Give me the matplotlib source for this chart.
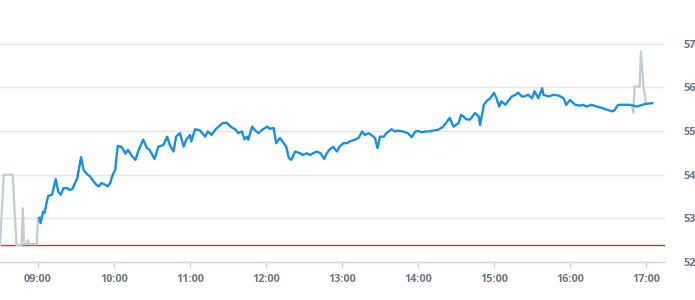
import numpy as np
import pandas as pd
import matplotlib
matplotlib.use("Agg")
import matplotlib.pyplot as plt
import matplotlib.dates as mdates

# 主线（交易时段）
blue_time = ["09:01", "09:02", "09:04", "09:05", "09:07", "09:08", "09:11", "09:12", "09:14", "09:16",
             "09:18", "09:20", "09:23", "09:25", "09:27", "09:31", "09:34", "09:36", "09:38", "09:41",
             "09:44", "09:46", "09:48", "09:50", "09:53", "09:55", "09:57", "09:59", "10:01", "10:02",
             "10:03", "10:05", "10:06", "10:09", "10:11", "10:14", "10:17", "10:19", "10:23", "10:26",
             "10:28", "10:32", "10:35", "10:39", "10:42", "10:44", "10:47", "10:49", "10:52", "10:55",
             "10:57", "11:00", "11:01", "11:04", "11:08", "11:12", "11:14", "11:17", "11:20", "11:24",
             "11:26", "11:29", "11:32", "11:36", "11:38", "11:41", "11:43", "11:45", "11:46", "11:49",
             "11:51", "11:54", "11:57", "12:01", "12:03", "12:06", "12:08", "12:11", "12:14", "12:16",
             "12:18", "12:20", "12:23", "12:27", "12:29", "12:32", "12:35", "12:37", "12:40", "12:43",
             "12:46", "12:48", "12:50", "12:53", "12:56", "12:58", "13:01", "13:04", "13:06", "13:10",
             "13:13", "13:16", "13:18", "13:21", "13:23", "13:26", "13:28", "13:30", "13:33", "13:35",
             "13:39", "13:42", "13:44", "13:48", "13:52", "13:55", "13:58", "14:00", "14:03", "14:06",
             "14:09", "14:12", "14:16", "14:20", "14:23", "14:25", "14:28", "14:32", "14:34", "14:36",
             "14:38", "14:41", "14:45", "14:48", "14:49", "14:52", "14:54", "14:57", "15:00", "15:02",
             "15:04", "15:06", "15:09", "15:11", "15:14", "15:17", "15:19", "15:22", "15:24", "15:27",
             "15:30", "15:32", "15:35", "15:38", "15:39", "15:43", "15:47", "15:51", "15:55", "15:57",
             "16:00", "16:04", "16:08", "16:10", "16:13", "16:17", "16:21", "16:25", "16:29", "16:33",
             "16:35", "16:38", "16:42", "16:46", "16:47", "16:53", "16:57", "17:00", "17:05"]
blue_value = [53.01, 52.89, 53.15, 53.12, 53.38, 53.51, 53.54, 53.65, 53.90, 53.61,
              53.54, 53.69, 53.69, 53.65, 53.67, 53.92, 54.40, 54.11, 54.03, 53.96,
              53.84, 53.77, 53.73, 53.81, 53.77, 53.73, 53.81, 54.00, 54.11, 54.42,
              54.66, 54.64, 54.64, 54.48, 54.57, 54.43, 54.34, 54.53, 54.80, 54.61,
              54.57, 54.36, 54.64, 54.68, 54.87, 54.68, 54.53, 54.87, 54.95, 54.64,
              54.80, 54.91, 54.76, 55.04, 55.01, 54.87, 54.99, 54.91, 55.03, 55.14,
              55.18, 55.19, 55.10, 55.03, 54.95, 54.99, 54.81, 54.87, 54.80, 55.10,
              55.03, 54.95, 55.03, 55.10, 55.05, 55.07, 54.72, 54.84, 54.72, 54.64,
              54.38, 54.34, 54.53, 54.49, 54.45, 54.49, 54.45, 54.49, 54.53, 54.49,
              54.36, 54.49, 54.57, 54.64, 54.53, 54.64, 54.72, 54.72, 54.76, 54.80,
              54.84, 54.99, 54.91, 54.95, 54.91, 54.84, 54.61, 54.87, 54.87, 54.95,
              55.04, 54.99, 55.01, 54.99, 54.95, 54.86, 54.99, 55.00, 54.97, 54.99,
              54.99, 55.01, 55.03, 55.10, 55.22, 55.30, 55.10, 55.18, 55.37, 55.33,
              55.27, 55.26, 55.41, 55.33, 55.14, 55.60, 55.68, 55.75, 55.87, 55.75,
              55.56, 55.68, 55.60, 55.68, 55.79, 55.83, 55.88, 55.79, 55.79, 55.83,
              55.75, 55.91, 55.75, 55.98, 55.83, 55.79, 55.83, 55.81, 55.75, 55.60,
              55.71, 55.60, 55.58, 55.60, 55.56, 55.60, 55.56, 55.53, 55.49, 55.45,
              55.47, 55.60, 55.60, 55.60, 55.60, 55.56, 55.60, 55.62, 55.64]

# 灰线（盘前 / 盘后）
grey_pre_time = ["08:30", "08:33", "08:40", "08:43", "08:47", "08:48", "08:49", "08:51",
                 "08:52", "08:53", "08:59", "09:00", "09:01"]
grey_pre_value = [52.39, 54.00, 54.00, 52.39, 52.39, 53.23, 52.41, 52.41,
                  52.50, 52.41, 52.41, 53.01, 53.01]
grey_post_time = ["16:49", "16:50", "16:51", "16:55", "16:56", "16:58", "17:00"]
grey_post_value = [55.60, 55.42, 56.02, 56.02, 56.82, 56.02, 55.64]

ref_level = 52.39
y_ticks = [52, 53, 54, 55, 56, 57]
x_ticks = ["09:00", "10:00", "11:00", "12:00", "13:00", "14:00", "15:00", "16:00", "17:00"]

def to_dt(ts):
    return pd.to_datetime(["2024-01-02 " + t for t in ts])

plt.rcParams['font.family'] = ['Open Sans', 'DejaVu Sans']

fig = plt.figure(figsize=(6.95, 3.0), dpi=100)
ax = fig.add_axes([0, 38 / 300, 665 / 695, 262 / 300])

ax.plot(to_dt(grey_pre_time), grey_pre_value, color="#c3ccd4", lw=1.6, zorder=3)
ax.plot(to_dt(grey_post_time), grey_post_value, color="#c3ccd4", lw=1.6, zorder=3)
ax.plot(to_dt(blue_time), blue_value, color="#1b8fdc", lw=1.7, zorder=4,
        solid_joinstyle="round")
ax.axhline(ref_level, color="#c9363c", lw=1.0, zorder=2)

ax.set_ylim(52, 58)
ax.set_xlim(pd.Timestamp("2024-01-02 08:30"), pd.Timestamp("2024-01-02 17:15"))

ax.set_yticks(y_ticks)
ax.yaxis.tick_right()
ax.grid(axis="y", color="#e6e6e6", lw=1.0, zorder=0)
ax.set_xticks(to_dt(x_ticks))
ax.xaxis.set_major_formatter(mdates.DateFormatter("%H:%M"))

for s in ["top", "left", "right"]:
    ax.spines[s].set_visible(False)
ax.spines["bottom"].set_color("#ccd6eb")
ax.spines["bottom"].set_linewidth(1.0)

ax.tick_params(axis="y", length=0, pad=13, labelsize=7.8, labelcolor="#6a7683")
ax.tick_params(axis="x", length=4, width=1, color="#ccd6eb", pad=5,
               labelsize=7.8, labelcolor="#6a7683")
for lab in ax.get_xticklabels() + ax.get_yticklabels():
    lab.set_fontweight("bold")

fig.savefig("out.png", dpi=100)
